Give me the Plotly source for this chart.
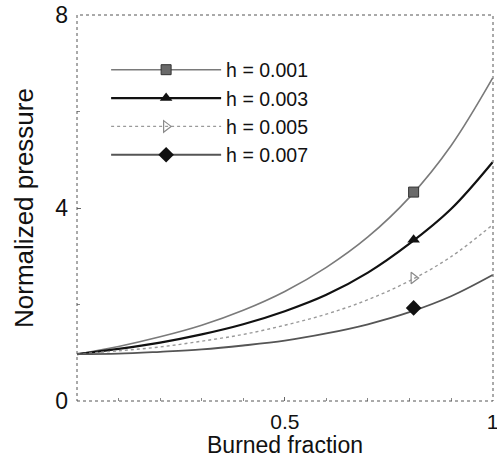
import plotly.graph_objects as go

# Burned fraction sample points
burned = [0.0, 0.1, 0.2, 0.3, 0.4, 0.5, 0.6, 0.7, 0.8, 0.9, 1.0]

# Normalized pressure
p_h001 = [0.97, 1.13, 1.33, 1.57, 1.88, 2.27, 2.77, 3.40, 4.22, 5.29, 6.69]
p_h003 = [0.97, 1.08, 1.21, 1.38, 1.59, 1.86, 2.20, 2.66, 3.26, 3.98, 4.95]
p_h005 = [0.97, 1.04, 1.12, 1.24, 1.38, 1.57, 1.80, 2.10, 2.49, 2.99, 3.65]
p_h007 = [0.97, 0.98, 1.02, 1.07, 1.15, 1.25, 1.40, 1.59, 1.84, 2.17, 2.61]

# marker positions along each curve
marker_x = [0.81]
m_h001 = [4.33]
m_h003 = [3.34]
m_h005 = [2.55]
m_h007 = [1.93]

labels = ["h = 0.001", "h = 0.003", "h = 0.005", "h = 0.007"]

y_ticks = [0, 4, 8]
y_ticktext = ["0", "4", "8"]
x_ticks = [0.5, 1]
x_ticktext = ["0.5", "1"]

series = [
    (p_h001, m_h001, dict(color="#7a7a7a", width=1.6, dash="solid"),
     dict(symbol="square", color="#6a6a6a", size=10, line=dict(color="#333", width=1))),
    (p_h003, m_h003, dict(color="#111111", width=2.2, dash="solid"),
     dict(symbol="triangle-up", color="#111111", size=11)),
    (p_h005, m_h005, dict(color="#9a9a9a", width=1.4, dash="dot"),
     dict(symbol="triangle-right-open", color="#8a8a8a", size=10, line=dict(width=1.2))),
    (p_h007, m_h007, dict(color="#555555", width=1.8, dash="solid"),
     dict(symbol="diamond", color="#111111", size=12)),
]

fig = go.Figure()
for (vals, mvals, line, marker), name in zip(series, labels):
    fig.add_trace(go.Scatter(x=burned, y=vals, mode="lines", line=dict(line, shape="spline"),
                             showlegend=False, hoverinfo="skip"))
    fig.add_trace(go.Scatter(x=marker_x, y=mvals, mode="markers", marker=marker,
                             showlegend=False))
    # legend entry (line with marker)
    fig.add_trace(go.Scatter(x=[None], y=[None], mode="lines+markers", name=name,
                             line=line, marker=marker))

font_family = "Liberation Sans, Arial, Helvetica, sans-serif"

fig.update_layout(
    width=497, height=458,
    margin=dict(l=77, r=4, t=15, b=57),
    paper_bgcolor="white", plot_bgcolor="white",
    font=dict(family=font_family, color="#111111", size=22),
    showlegend=True,
    legend=dict(x=0.07, y=0.908, xanchor="left", yanchor="top",
                bgcolor="rgba(0,0,0,0)", borderwidth=0, itemwidth=110,
                font=dict(size=19.5, family=font_family), tracegroupgap=0),
    xaxis=dict(range=[0, 1.001], tickvals=x_ticks, ticktext=x_ticktext,
               ticks="inside", ticklen=4, tickcolor="#666",
               minor=dict(dtick=0.1, ticks="inside", ticklen=3, tickcolor="#888"),
               showgrid=False, zeroline=False, showline=False, automargin=False,
               tickfont=dict(size=21), ticklabelstandoff=6, ticklabeloverflow="allow",
               title=dict(text="Burned fraction", font=dict(size=23), standoff=6)),
    yaxis=dict(range=[0, 8], tickvals=y_ticks, ticktext=y_ticktext,
               ticks="inside", ticklen=4, tickcolor="#666",
               minor=dict(dtick=2, ticks="inside", ticklen=3, tickcolor="#888"),
               showgrid=False, zeroline=False, showline=False, automargin=False,
               tickfont=dict(size=23), ticklabelstandoff=8,
               title=dict(text="Normalized pressure", font=dict(size=26), standoff=14)),
    shapes=[dict(type="rect", xref="paper", yref="paper", x0=0, y0=0, x1=1, y1=1,
                 line=dict(color="#555555", width=1, dash="dot"), layer="above")],
)

fig.write_html("out.html")
